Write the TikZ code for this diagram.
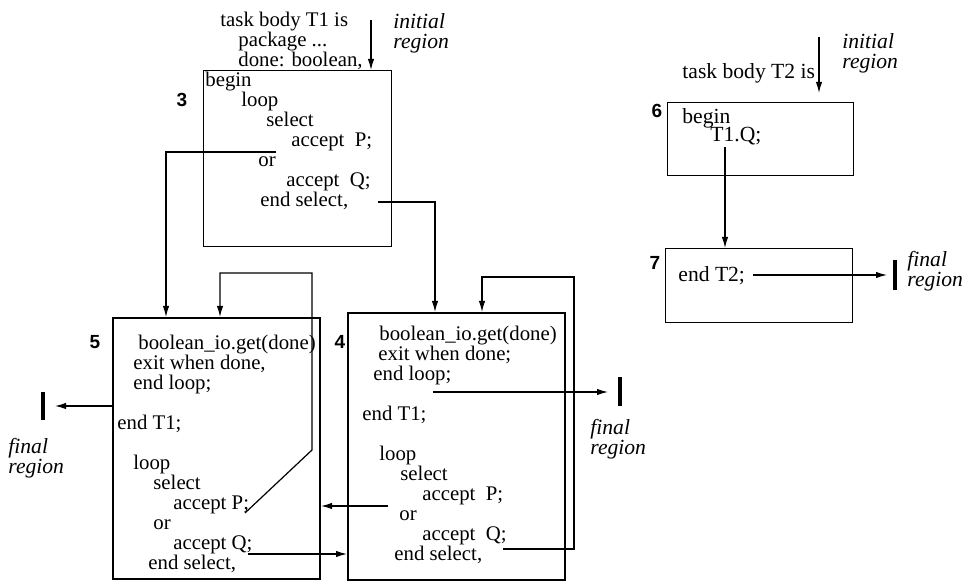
\documentclass[tikz,border=0pt]{standalone}
\usepackage{fontspec}
\setmainfont{Liberation Serif}
\newfontfamily\labelsans{Liberation Sans}
\usetikzlibrary{arrows.meta}
\tikzset{
  blk/.style={draw, line width=0.6pt, anchor=north west, inner sep=0pt},
  code/.style={anchor=north west, align=left, inner sep=0pt, font=\fontsize{10.4}{10}\selectfont},
  bigcode/.style={code, font=\fontsize{10.8}{10}\selectfont},
  num/.style={font=\labelsans\bfseries\fontsize{9.5}{10}\selectfont},
  note/.style={anchor=north west, align=left, inner sep=0pt, font=\itshape\fontsize{10.8}{10}\selectfont},
  flow/.style={-{Latex[length=5.5pt,width=3.2pt]}, line width=0.6pt},
  bar/.style={line width=1.6pt},
}
\begin{document}
\begin{tikzpicture}[x=0.5pt,y=-0.5pt]
    \useasboundingbox (0,0) rectangle (968,581);
    % boxes
    \node [blk, minimum width=94pt, minimum height=88pt] (b3) at (203,70) {};
    \node [blk, line width=1pt, minimum width=103.5pt, minimum height=130.5pt] (b5) at (112,317) {};
    \node [blk, line width=1pt, minimum width=108.5pt, minimum height=133.5pt] (b4) at (347,312) {};
    \node [blk, minimum width=93pt, minimum height=36.5pt] (b6) at (667,102) {};
    \node [blk, minimum width=93.5pt, minimum height=37pt] (b7) at (665,248) {};
    \node [num] (n3) at (182,100) {3};
    \node [num] (n5) at (95,342) {5};
    \node [num] (n4) at (340,342) {4};
    \node [num] (n6) at (657,111) {6};
    \node [num] (n7) at (655,263) {7};
    % task T1
    \node [code] (t3) at (205,12) {\hspace*{7.5pt}task body T1 is\\
        \hspace*{16.5pt}package ...\\
        \hspace*{16.5pt}done: boolean,\\
        begin\\
        \hspace*{18pt}loop\\
        \hspace*{30.5pt}select\\
        \hspace*{43pt}accept\ \ P;\\
        \hspace*{26.5pt}or\\
        \hspace*{40.5pt}accept\ \ Q;\\
        \hspace*{27.5pt}end select,};
    \node [code] (t5) at (117,335) {\hspace*{10.5pt}boolean\_io.get(done)\\
        \hspace*{8pt}exit when done,\\
        \hspace*{8pt}end loop;\\[10pt]
        end T1;\\[10pt]
        \hspace*{8pt}loop\\
        \hspace*{18pt}select\\
        \hspace*{28pt}accept P;\\
        \hspace*{18pt}or\\
        \hspace*{28pt}accept Q;\\
        \hspace*{15.5pt}end select,};
    \node [code] (t4) at (362,326) {\hspace*{8.5pt}boolean\_io.get(done)\\
        \hspace*{8pt}exit when done;\\
        \hspace*{5.5pt}end loop;\\[10pt]
        end T1;\\[10pt]
        \hspace*{8.5pt}loop\\
        \hspace*{19pt}select\\
        \hspace*{30pt}accept\ \ P;\\
        \hspace*{18.5pt}or\\
        \hspace*{30pt}accept\ \ Q;\\
        \hspace*{16pt}end select,};
    % task T2
    \node [bigcode] (h2) at (682,63) {task body T2 is};
    \node [bigcode] (t6) at (682,108) {begin\\[-1pt]\hspace*{14pt}T1.Q;};
    \node [bigcode] (t7) at (678,266) {end T2;};
    % initial and final regions
    \node [note] (i1) at (393,13) {initial\\region};
    \node [note] (i2) at (842,33) {initial\\region};
    \node [note] (f5) at (8,438) {final\\region};
    \node [note] (f4) at (590,419) {final\\region};
    \node [note] (f7) at (907,251) {final\\region};
    \coordinate (s1) at (371,20);
    \coordinate (s2) at (819,37);
    \draw [flow] (s1) -- (s1 |- b3.north);
    \draw [flow] (s2) -- ([yshift=4.5pt]s2 |- b6.north);
    % transitions
    \coordinate (p3) at (276,152);
    \coordinate (q3) at (378,202);
    \draw [flow] (p3) -| ([xshift=27pt]b5.north west);
    \draw [flow] (q3) -| ([xshift=44pt]b4.north west);
    \coordinate (r5) at (245,513);
    \draw [flow] (r5) -- (312,450) -- (312,273) -| ([xshift=54pt]b5.north west);
    \coordinate (r4) at (503,549);
    \draw [flow] (r4) -- (574,549) -- (574,277) -| ([xshift=67.5pt]b4.north west);
    \coordinate (s4) at (388,506);
    \draw [flow] (s4) -- (s4 -| b5.east);
    \coordinate (s5) at (248,554);
    \draw [flow] (s5) -- (s5 -| b4.west);
    \coordinate (q6) at (725,147);
    \draw [flow] (q6) -- (q6 |- b7.north);
    % exits
    \coordinate (x5) at (43,406);
    \coordinate (x4) at (620,392);
    \coordinate (x7) at (895,275);
    \coordinate (e4) at (433,392);
    \coordinate (e7) at (753,275);
    \draw [bar] ([yshift=7pt]x5) -- ([yshift=-7pt]x5);
    \draw [bar] ([yshift=7.25pt]x4) -- ([yshift=-7.25pt]x4);
    \draw [bar] ([yshift=7.5pt]x7) -- ([yshift=-7.5pt]x7);
    \draw [flow] (x5 -| b5.west) -- ([xshift=6pt]x5);
    \draw [flow] (e4) -- ([xshift=-6pt]x4);
    \draw [flow] (e7) -- ([xshift=-4pt]x7);
\end{tikzpicture}
\end{document}
